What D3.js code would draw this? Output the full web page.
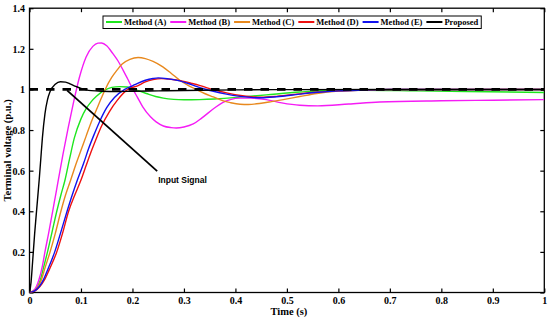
<!DOCTYPE html>
<html>
<head>
<meta charset="utf-8">
<script src="https://cdn.jsdelivr.net/npm/d3@7"></script>
<style>
  body { margin: 0; background: #fff; }
  svg { display: block; }
  .tick text { font-family: "Liberation Serif", "Times New Roman", serif; font-weight: bold; font-size: 10px; fill: #000; }
  .tick line { stroke: #000; stroke-width: 1.2px; }
</style>
</head>
<body>
<div id="chart"></div>
<script>
var width = 550,
    height = 321;

// step responses, [time (s), voltage (p.u.)]
var methodA = [[0,0],[0.01,0.012],[0.021,0.062],[0.028,0.13],[0.035,0.2],[0.044,0.3],[0.053,0.4],[0.061,0.48],[0.069,0.554],[0.078,0.66],[0.087,0.76],[0.1,0.855],[0.11,0.905],[0.12,0.94],[0.13,0.966],[0.145,0.995],[0.16,1.01],[0.175,1.014],[0.19,1.012],[0.21,0.995],[0.227,0.98],[0.245,0.965],[0.26,0.957],[0.28,0.951],[0.3,0.949],[0.33,0.95],[0.36,0.953],[0.41,0.962],[0.46,0.973],[0.525,0.987],[0.58,0.995],[0.65,0.996],[0.75,0.993],[0.85,0.99],[1.0,0.985]];
var methodB = [[0,0],[0.01,0.015],[0.018,0.06],[0.025,0.13],[0.03,0.2],[0.037,0.29],[0.045,0.4],[0.05,0.47],[0.056,0.554],[0.065,0.68],[0.075,0.81],[0.085,0.93],[0.097,1.06],[0.11,1.16],[0.123,1.212],[0.133,1.228],[0.14,1.229],[0.15,1.215],[0.162,1.176],[0.172,1.14],[0.182,1.094],[0.19,1.055],[0.201,1.0],[0.21,0.96],[0.22,0.914],[0.235,0.865],[0.246,0.84],[0.26,0.82],[0.275,0.812],[0.285,0.81],[0.3,0.815],[0.318,0.83],[0.335,0.86],[0.36,0.91],[0.375,0.935],[0.39,0.95],[0.41,0.957],[0.43,0.957],[0.46,0.95],[0.49,0.934],[0.525,0.922],[0.56,0.919],[0.62,0.928],[0.68,0.938],[0.8,0.944],[0.9,0.947],[1.0,0.95]];
var methodC = [[0,0],[0.01,0.01],[0.023,0.062],[0.03,0.12],[0.04,0.2],[0.05,0.29],[0.061,0.4],[0.07,0.48],[0.08,0.554],[0.09,0.63],[0.1,0.7],[0.11,0.77],[0.12,0.84],[0.13,0.9],[0.14,0.96],[0.147,1.0],[0.16,1.06],[0.17,1.095],[0.18,1.125],[0.195,1.148],[0.211,1.157],[0.225,1.152],[0.24,1.138],[0.259,1.111],[0.275,1.08],[0.292,1.045],[0.308,1.02],[0.324,1.0],[0.34,0.98],[0.357,0.963],[0.375,0.945],[0.39,0.935],[0.409,0.927],[0.425,0.926],[0.45,0.932],[0.47,0.94],[0.493,0.95],[0.525,0.965],[0.558,0.98],[0.6,0.992],[0.65,0.997],[0.7,0.999],[1.0,1.0]];
var methodD = [[0,0],[0.01,0.007],[0.029,0.062],[0.038,0.11],[0.053,0.2],[0.064,0.29],[0.076,0.4],[0.088,0.48],[0.1,0.554],[0.11,0.625],[0.12,0.695],[0.13,0.76],[0.14,0.82],[0.155,0.89],[0.17,0.945],[0.191,1.0],[0.21,1.018],[0.225,1.037],[0.24,1.048],[0.256,1.053],[0.275,1.05],[0.295,1.042],[0.315,1.03],[0.33,1.02],[0.345,1.008],[0.36,0.997],[0.385,0.982],[0.41,0.97],[0.43,0.964],[0.45,0.962],[0.48,0.966],[0.525,0.978],[0.56,0.987],[0.6,0.993],[0.65,0.997],[0.7,1.0],[1.0,1.0]];
var methodE = [[0,0],[0.01,0.008],[0.027,0.062],[0.035,0.11],[0.049,0.2],[0.06,0.29],[0.073,0.4],[0.083,0.48],[0.093,0.554],[0.105,0.635],[0.115,0.71],[0.125,0.775],[0.135,0.835],[0.15,0.91],[0.165,0.96],[0.185,1.0],[0.2,1.018],[0.21,1.03],[0.225,1.045],[0.24,1.054],[0.25,1.057],[0.27,1.052],[0.292,1.042],[0.31,1.028],[0.324,1.015],[0.34,1.002],[0.357,0.991],[0.38,0.978],[0.409,0.966],[0.43,0.961],[0.45,0.959],[0.48,0.964],[0.525,0.977],[0.56,0.986],[0.6,0.993],[0.65,0.997],[0.7,1.0],[1.0,1.0]];
var proposed = [[0,0],[0.003,0.05],[0.006,0.15],[0.01,0.29],[0.015,0.44],[0.019,0.56],[0.022,0.66],[0.025,0.76],[0.03,0.88],[0.035,0.95],[0.04,0.99],[0.05,1.025],[0.06,1.038],[0.07,1.036],[0.08,1.026],[0.09,1.015],[0.1,1.005],[0.11,0.998],[0.12,0.994],[0.14,0.991],[0.17,0.99],[0.2,0.991],[0.25,0.993],[0.3,0.995],[0.4,0.998],[0.5,0.999],[0.7,1.0],[1.0,1.0]];
var inputSignal = [[0,1],[1,1]];

var seriesNames = ["Method (A)", "Method (B)", "Method (C)", "Method (D)", "Method (E)", "Proposed"];
var seriesData = [methodA, methodB, methodC, methodD, methodE, proposed];
var color = ["#1ee61e", "#f51cf5", "#e8891e", "#ee1111", "#1111ee", "#000000"];

var xTicks = [0, 0.1, 0.2, 0.3, 0.4, 0.5, 0.6, 0.7, 0.8, 0.9, 1];
var yTicks = [0, 0.2, 0.4, 0.6, 0.8, 1, 1.2, 1.4];

var annotationText = "Input Signal";
var annotationFrom = [0.073, 0.995],
    annotationTo = [0.248, 0.598];

var margin = { left: 29.5, right: 5.7, top: 8.2, bottom: 28.5 };

var x = d3.scaleLinear()
    .domain([0, 1])
    .range([margin.left, width - margin.right]);

var y = d3.scaleLinear()
    .domain([0, 1.4])
    .range([height - margin.bottom, margin.top]);

var svg = d3.select("#chart").append("svg")
    .attr("width", width)
    .attr("height", height);

svg.append("defs").append("clipPath")
    .attr("id", "plotclip")
    .append("rect")
    .attr("x", x(0))
    .attr("y", y(1.4))
    .attr("width", x(1) - x(0))
    .attr("height", y(0) - y(1.4));

// axes, ticks pointing inward on all four sides
var fmt = function (d) { return d3.format("")(d); };

var xAxis = svg.append("g")
    .attr("transform", "translate(0," + y(0) + ")")
    .call(d3.axisBottom(x).tickValues(xTicks).tickSizeInner(-4).tickSizeOuter(0).tickPadding(8).tickFormat(fmt))
    .call(function (g) { g.select(".domain").remove(); });
xAxis.selectAll(".tick text").attr("dy", null).attr("y", 11.5);

var yAxis = svg.append("g")
    .attr("transform", "translate(" + x(0) + ",0)")
    .call(d3.axisLeft(y).tickValues(yTicks).tickSizeInner(-4).tickSizeOuter(0).tickPadding(4.5).tickFormat(fmt))
    .call(function (g) { g.select(".domain").remove(); });
yAxis.selectAll(".tick text").attr("dy", "0.34em");

svg.append("g")
    .attr("transform", "translate(0," + y(1.4) + ")")
    .call(d3.axisTop(x).tickValues(xTicks).tickSizeInner(-4).tickSizeOuter(0).tickFormat(""))
    .call(function (g) { g.select(".domain").remove(); });

svg.append("g")
    .attr("transform", "translate(" + x(1) + ",0)")
    .call(d3.axisRight(y).tickValues(yTicks).tickSizeInner(-4).tickSizeOuter(0).tickFormat(""))
    .call(function (g) { g.select(".domain").remove(); });

svg.append("rect")
    .attr("x", x(0))
    .attr("y", y(1.4))
    .attr("width", x(1) - x(0))
    .attr("height", y(0) - y(1.4))
    .attr("fill", "none")
    .attr("stroke", "#000")
    .attr("stroke-width", 1.3);

// axis titles
svg.append("text")
    .attr("x", (x(0) + x(1)) / 2 + 2)
    .attr("y", 315)
    .attr("text-anchor", "middle")
    .style("font-family", "Liberation Serif, serif")
    .style("font-weight", "bold")
    .style("font-size", "10.5px")
    .text("Time (s)");

svg.append("text")
    .attr("transform", "translate(10.5," + ((y(0) + y(1.4)) / 2) + ") rotate(-90)")
    .attr("text-anchor", "middle")
    .style("font-family", "Liberation Serif, serif")
    .style("font-weight", "bold")
    .style("font-size", "10.5px")
    .text("Terminal voltage (p.u.)");

var line = d3.line()
    .x(function (d) { return x(d[0]); })
    .y(function (d) { return y(d[1]); })
    .curve(d3.curveMonotoneX);

var g = svg.append("g").attr("clip-path", "url(#plotclip)");

g.selectAll("path.series")
    .data(seriesData)
    .enter().append("path")
    .attr("class", "series")
    .attr("d", line)
    .attr("fill", "none")
    .attr("stroke", function (d, i) { return color[i]; })
    .attr("stroke-width", 1.4);

g.append("path")
    .datum(inputSignal)
    .attr("d", line)
    .attr("fill", "none")
    .attr("stroke", "#000")
    .attr("stroke-width", 2.8)
    .attr("stroke-dasharray", "8.5,8");

// annotation
svg.append("line")
    .attr("x1", x(annotationFrom[0]))
    .attr("y1", y(annotationFrom[1]))
    .attr("x2", x(annotationTo[0]))
    .attr("y2", y(annotationTo[1]))
    .attr("stroke", "#000")
    .attr("stroke-width", 1.8);

svg.append("text")
    .attr("x", x(annotationTo[0]) + 1)
    .attr("y", y(annotationTo[1]) + 11.5)
    .style("font-family", "Liberation Sans, Arial, sans-serif")
    .style("font-weight", "bold")
    .style("font-size", "8.5px")
    .text(annotationText);

// legend
var legend = svg.append("g");
var legendBox = legend.append("rect")
    .attr("fill", "#fff")
    .attr("stroke", "#000")
    .attr("stroke-width", 1);

var lx = 106, ly = 22;
seriesNames.forEach(function (name, i) {
    legend.append("line")
        .attr("x1", lx).attr("x2", lx + 16)
        .attr("y1", ly).attr("y2", ly)
        .attr("stroke", color[i])
        .attr("stroke-width", 2);
    var t = legend.append("text")
        .attr("x", lx + 18)
        .attr("y", ly + 3)
        .style("font-family", "Liberation Serif, serif")
        .style("font-weight", "bold")
        .style("font-size", "8.5px")
        .text(name);
    lx += 18 + t.node().getComputedTextLength() + 4;
});

legendBox
    .attr("x", 103)
    .attr("y", 16)
    .attr("width", lx - 1 - 103)
    .attr("height", 12.5);
</script>
</body>
</html>
